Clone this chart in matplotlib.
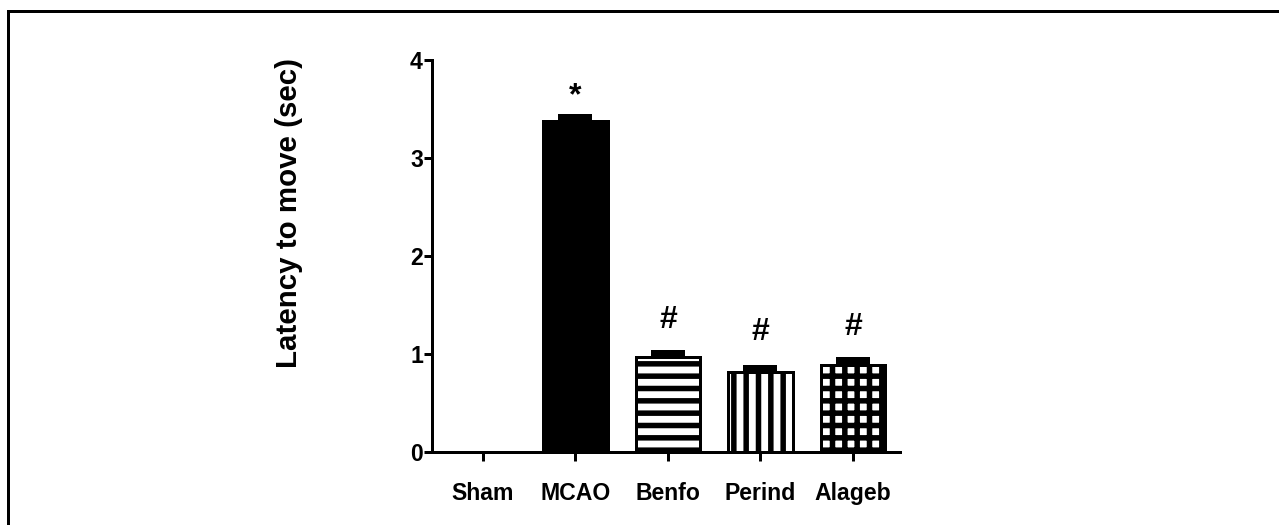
import numpy as np
import matplotlib
matplotlib.use("Agg")
import matplotlib.pyplot as plt
from matplotlib.patches import Rectangle

# group names and values
groups = ["Sham", "MCAO", "Benfo", "Perind", "Alageb"]
means = [0.0, 3.38, 0.97, 0.82, 0.89]
sems = [0.0, 0.04, 0.04, 0.04, 0.05]
hatches = ["", "", "-", "|", "+"]
fills = ["white", "black", "white", "white", "white"]
marks = ["", "*", "#", "#", "#"]
mark_y = [0.0, 3.55, 1.265, 1.14, 1.19]

DPI = 74
px = 72.0 / DPI  # one pixel in points

plt.rcParams["font.family"] = ["Liberation Sans", "DejaVu Sans"]
plt.rcParams["font.weight"] = "bold"
plt.rcParams["hatch.linewidth"] = 5.5 * px
plt.rcParams["hatch.color"] = "black"

fig = plt.figure(figsize=(1279 / DPI, 525 / DPI), dpi=DPI)
ax = fig.add_axes([432 / 1279, 1 - 452 / 525, (900 - 432) / 1279, (452 - 60) / 525])

x = np.arange(len(groups))
m_arr = np.array(means)
s_arr = np.array(sems)
has_err = s_arr > 0  # Sham (zero) shows no bar and no cap
ax.errorbar(x[has_err], m_arr[has_err],
            yerr=[np.zeros(has_err.sum()), s_arr[has_err]], fmt="none",
            ecolor="black", elinewidth=3 * px, capsize=16.5 * px,
            capthick=6 * px, zorder=1)
edge_w = [0 if m == 0 else 3 * px for m in means]
bars = ax.bar(x, means, width=0.7, color=fills, edgecolor="black",
              linewidth=edge_w, zorder=2)
for b, h in zip(bars, hatches):
    b.set_hatch(h)

for xi, m, yi in zip(x, marks, mark_y):
    if m:
        ax.text(xi, yi, m, ha="center", va="baseline",
                fontsize=32 * px, fontweight="bold")

ax.set_xlim(-0.551, 4.508)
ax.set_ylim(0, 4)
ax.set_yticks([0, 1, 2, 3, 4])
ax.set_xticks(x)
ax.set_xticklabels(groups)
ax.tick_params(axis="y", length=8 * px, width=3 * px, pad=1,
               labelsize=23 * px)
ax.tick_params(axis="x", length=9 * px, width=3 * px, pad=21 * px,
               labelsize=23 * px)
for lab in ax.get_xticklabels() + ax.get_yticklabels():
    lab.set_fontweight("bold")

for s in ["top", "right"]:
    ax.spines[s].set_visible(False)
for s in ["left", "bottom"]:
    ax.spines[s].set_linewidth(3 * px)

ax.set_ylabel("Latency to move (sec)", fontsize=29.5 * px, fontweight="bold")
ax.yaxis.set_label_coords(-0.276, 0.61)

# frame around the figure (only top and left edges fall inside the image)
fig.add_artist(Rectangle((8 / 1279, -0.5), 2, 0.5 + 1 - 11 / 525,
                         transform=fig.transFigure, fill=False,
                         edgecolor="black", linewidth=3 * px, clip_on=False))

fig.savefig("out.png", dpi=DPI, facecolor="white")
